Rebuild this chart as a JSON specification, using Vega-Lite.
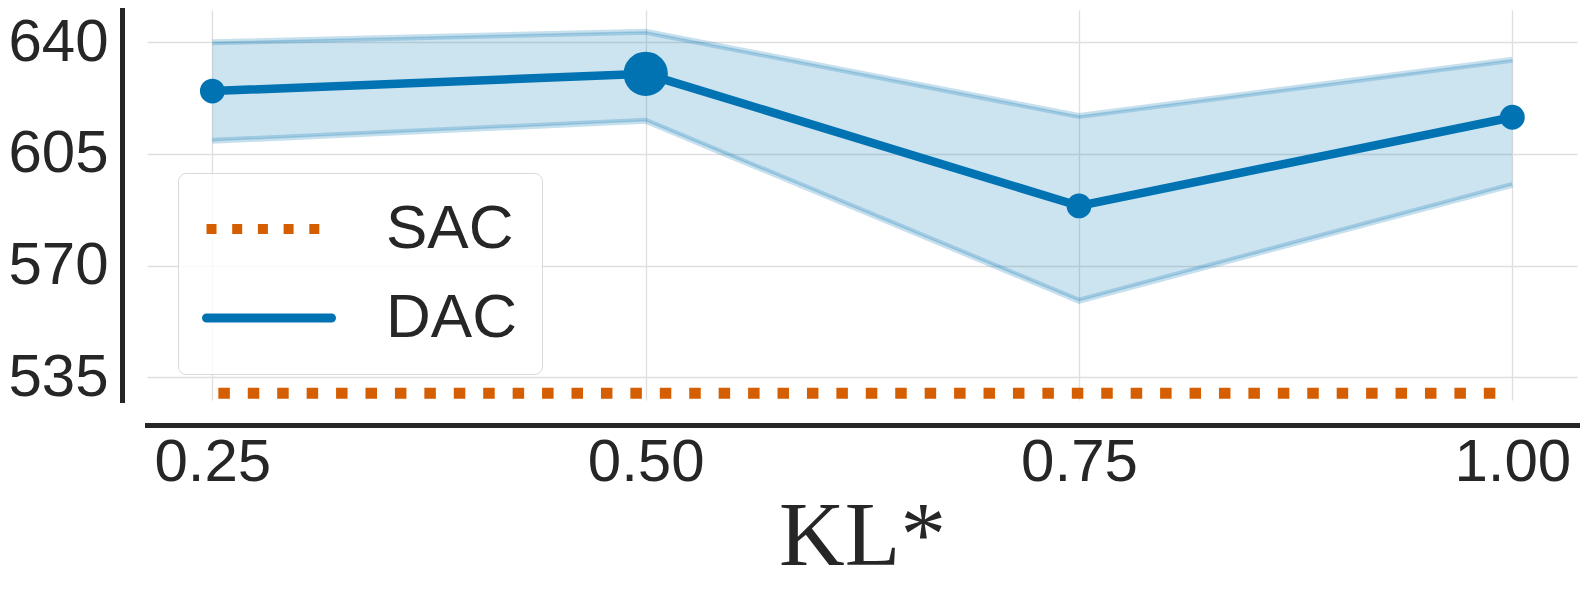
{
  "$schema": "https://vega.github.io/schema/vega-lite/v6.json",
  "width": 1430,
  "height": 390,
  "autosize": "none",
  "padding": {"left": 147, "top": 10, "right": 9, "bottom": 190},
  "background": "white",
  "config": {
    "view": {"stroke": null},
    "font": "Liberation Sans",
    "axis": {
      "labelFont": "Liberation Sans",
      "labelFontSize": 60,
      "labelColor": "#262626",
      "ticks": false,
      "tickSize": 0,
      "domainColor": "#262626",
      "domainWidth": 5,
      "domainCap": "square",
      "grid": true,
      "gridColor": "#dfdfdf",
      "gridWidth": 1.3,
      "labelFlush": false,
      "labelOverlap": false
    },
    "axisY": {"labelPadding": 14}
  },
  "datasets": {
    "dac": [
      {"kl": 0.25, "mean": 624.7, "lo": 609.1, "hi": 640.0, "best": "no", "algo": "DAC"},
      {"kl": 0.50, "mean": 630.1, "lo": 615.4, "hi": 643.3, "best": "yes", "algo": "DAC"},
      {"kl": 0.75, "mean": 588.7, "lo": 559.0, "hi": 616.9, "best": "no", "algo": "DAC"},
      {"kl": 1.00, "mean": 616.5, "lo": 595.3, "hi": 634.5, "best": "no", "algo": "DAC"}
    ],
    "sac": [
      {"kl": 0.25, "reward": 530.0, "algo": "SAC"},
      {"kl": 0.50, "reward": 530.0, "algo": "SAC"},
      {"kl": 0.75, "reward": 530.0, "algo": "SAC"},
      {"kl": 1.00, "reward": 530.0, "algo": "SAC"}
    ]
  },
  "encoding": {
    "x": {
      "field": "kl",
      "type": "quantitative",
      "scale": {"domain": [0.2123, 1.0373], "nice": false, "zero": false},
      "axis": {
        "values": [0.25, 0.5, 0.75, 1.0],
        "format": ".2f",
        "offset": 25,
        "title": "KL*",
        "titleFont": "Liberation Serif",
        "titleFontSize": 91,
        "titleFontWeight": "normal",
        "titleColor": "#262626",
        "titlePadding": 0,
        "labelPadding": 8
      }
    }
  },
  "layer": [
    {
      "data": {"name": "dac"},
      "mark": {"type": "area", "color": "#0173b2", "opacity": 0.2},
      "encoding": {
        "y": {
          "field": "hi",
          "type": "quantitative",
          "scale": {"domain": [527.9, 650.1], "nice": false, "zero": false},
          "axis": {"values": [535, 570, 605, 640], "title": null, "offset": 25}
        },
        "y2": {"field": "lo"}
      }
    },
    {
      "data": {"name": "dac"},
      "transform": [{"fold": ["lo", "hi"], "as": ["bound", "val"]}],
      "mark": {"type": "line", "color": "#0173b2", "opacity": 0.22, "strokeWidth": 6},
      "encoding": {
        "y": {"field": "val", "type": "quantitative", "scale": {"domain": [527.9, 650.1], "nice": false, "zero": false}, "axis": {"values": [535, 570, 605, 640], "title": null, "offset": 25}},
        "detail": {"field": "bound"}
      }
    },
    {
      "data": {"name": "dac"},
      "transform": [{"fold": ["lo", "hi"], "as": ["bound", "val"]}],
      "mark": {"type": "line", "color": "#0173b2", "opacity": 0.18, "strokeWidth": 1.5},
      "encoding": {
        "y": {"field": "val", "type": "quantitative", "scale": {"domain": [527.9, 650.1], "nice": false, "zero": false}, "axis": {"values": [535, 570, 605, 640], "title": null, "offset": 25}},
        "detail": {"field": "bound"}
      }
    },
    {
      "data": {"name": "sac"},
      "mark": {"type": "line", "strokeWidth": 11, "strokeCap": "butt", "strokeDash": [11.5, 17.93], "strokeDashOffset": 23.43},
      "encoding": {
        "y": {"field": "reward", "type": "quantitative", "scale": {"domain": [527.9, 650.1], "nice": false, "zero": false}, "axis": {"values": [535, 570, 605, 640], "title": null, "offset": 25}},
        "color": {
          "field": "algo",
          "type": "nominal",
          "scale": {"domain": ["SAC", "DAC"], "range": ["#d55e00", "#0173b2"]},
          "legend": {
            "orient": "none",
            "legendX": 31,
            "legendY": 163,
            "title": null,
            "symbolType": "stroke",
            "symbolSize": 15625,
            "symbolStrokeWidth": 9,
            "symbolOffset": 35,
            "labelFont": "Liberation Sans",
            "labelFontSize": 62,
            "labelColor": "#262626",
            "labelOffset": 86,
            "labelLimit": 0,
            "rowPadding": 27,
            "padding": 25,
            "fillColor": "rgba(255,255,255,0.8)",
            "strokeColor": "#d9d9d9",
            "cornerRadius": 8,
            "encode": {
              "symbols": {
                "update": {
                  "strokeDash": {"signal": "datum.value === 'SAC' ? [10, 15.7] : [1, 0]"},
                  "strokeCap": {"signal": "datum.value === 'SAC' ? 'butt' : 'round'"},
                  "strokeWidth": {"signal": "datum.value === 'SAC' ? 10 : 9"}
                }
              }
            }
          }
        }
      }
    },
    {
      "data": {"name": "dac"},
      "mark": {"type": "line", "strokeWidth": 8.5},
      "encoding": {
        "y": {"field": "mean", "type": "quantitative", "scale": {"domain": [527.9, 650.1], "nice": false, "zero": false}, "axis": {"values": [535, 570, 605, 640], "title": null, "offset": 25}},
        "color": {"field": "algo", "type": "nominal"}
      }
    },
    {
      "data": {"name": "dac"},
      "mark": {"type": "circle", "color": "#0173b2", "opacity": 1},
      "encoding": {
        "y": {"field": "mean", "type": "quantitative", "scale": {"domain": [527.9, 650.1], "nice": false, "zero": false}, "axis": {"values": [535, 570, 605, 640], "title": null, "offset": 25}},
        "size": {"field": "best", "type": "ordinal", "scale": {"domain": ["no", "yes"], "range": [616, 1963]}, "legend": null}
      }
    }
  ]
}
